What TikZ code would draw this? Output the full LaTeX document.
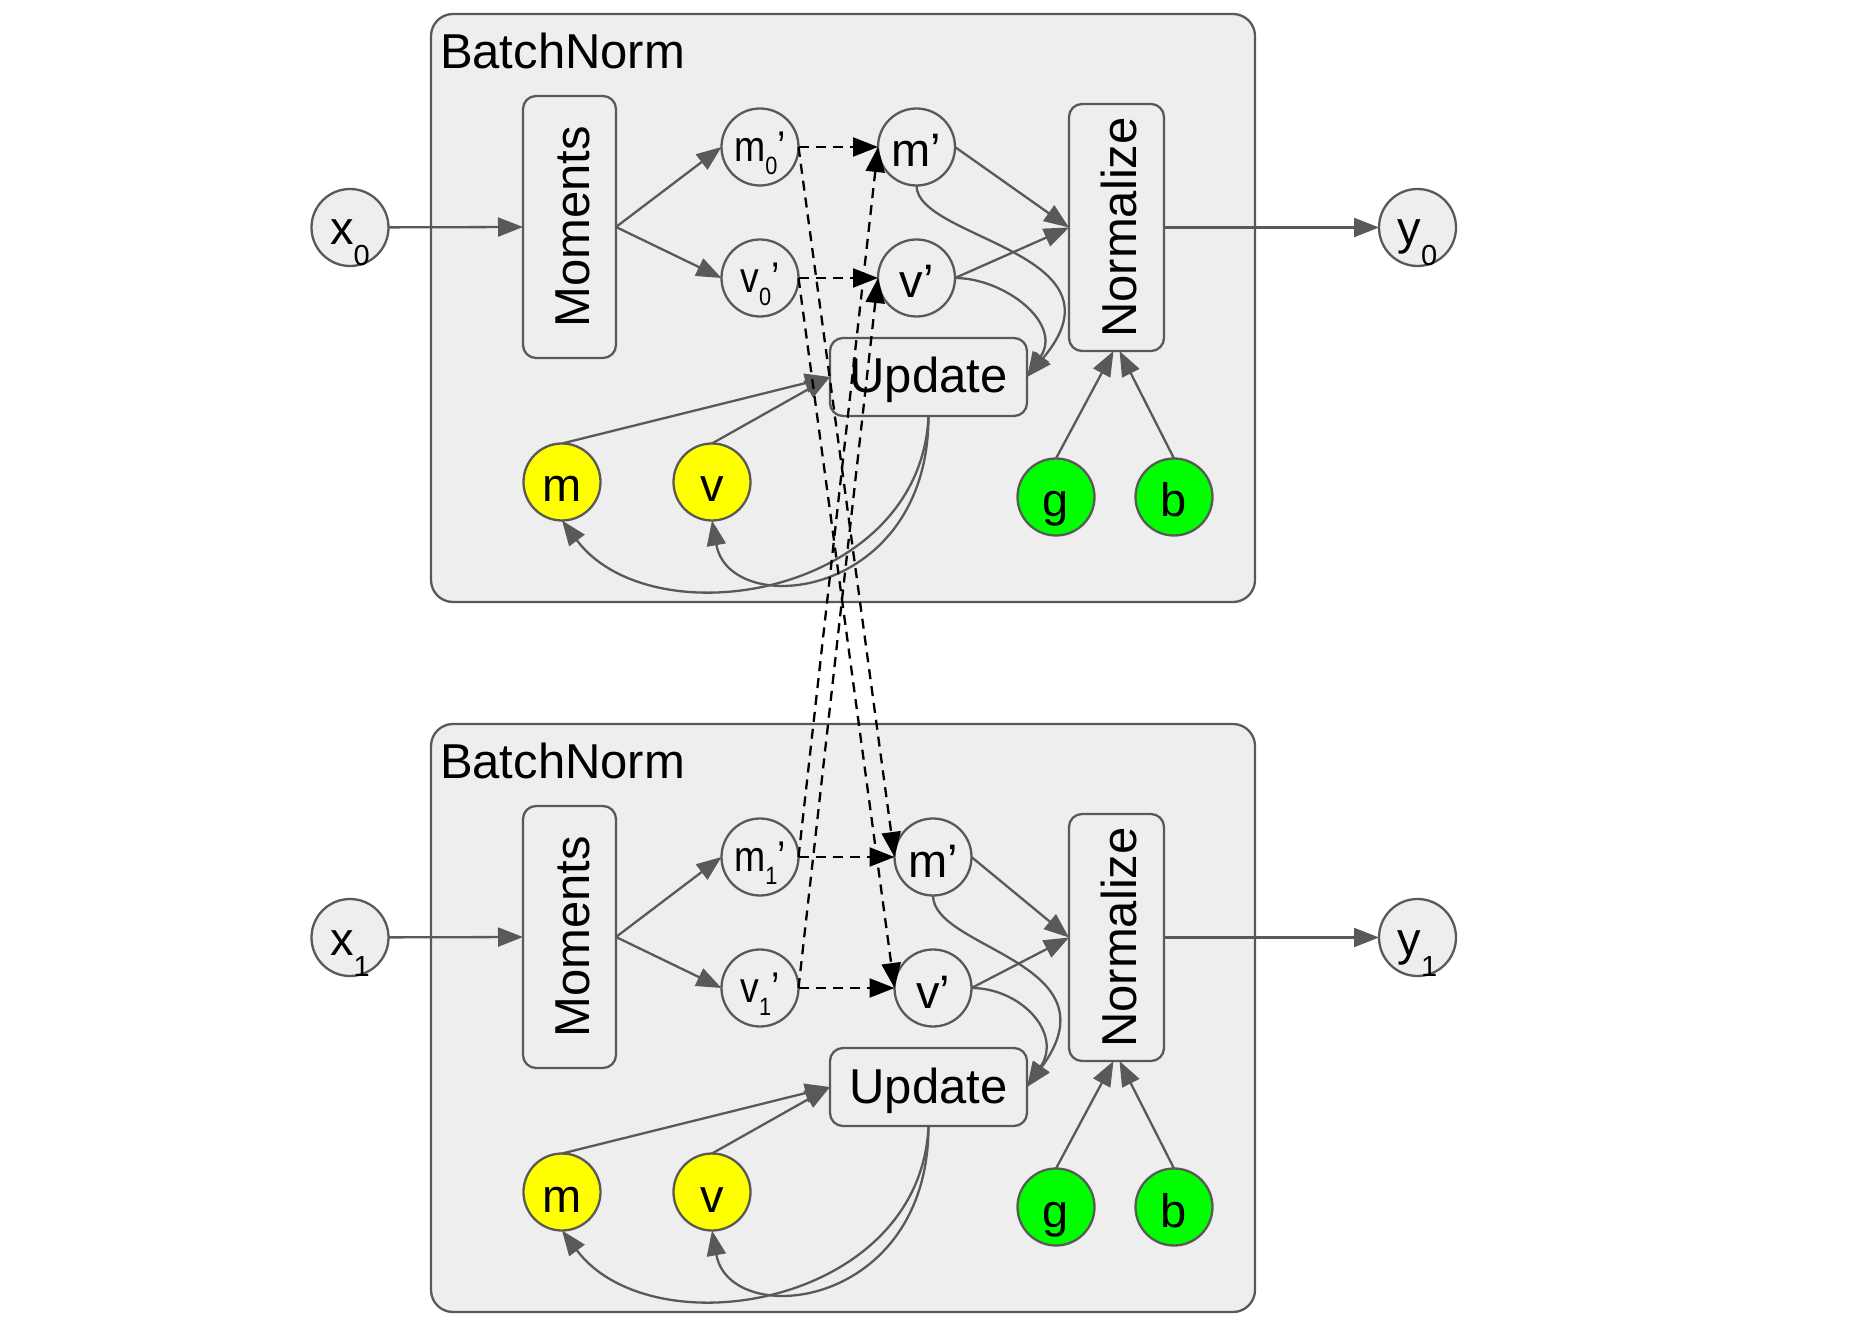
\documentclass[tikz,border=0pt]{standalone}
\usepackage{fontspec}
\setmainfont{Liberation Sans}
\usepackage{graphicx}
\usetikzlibrary{arrows.meta}
\definecolor{ln}{HTML}{595959}
\definecolor{bgc}{HTML}{EEEEEE}
\definecolor{ylw}{HTML}{FFFF00}
\definecolor{grn}{HTML}{00FF00}
\newcommand{\bigtxt}{\fontsize{24.5pt}{29pt}\selectfont}
\newcommand{\circtxt}{\fontsize{23.5pt}{28pt}\selectfont}
\newcommand{\subx}[1]{\raisebox{-10.5pt}{\fontsize{14.5pt}{17pt}\selectfont #1}}
\newcommand{\primed}[2]{\scalebox{0.87}[1]{\fontsize{21.5pt}{26pt}\selectfont #1\raisebox{-6.2pt}{\fontsize{12.5pt}{14pt}\selectfont #2}’}}
\tikzset{
  every node/.style={inner sep=0pt, outer sep=0pt},
  con/.style={draw=ln, line width=1.15pt, -{Triangle[length=12.5pt,width=9.5pt]}},
  dsh/.style={draw=black, line width=1.15pt, dash pattern=on 5pt off 3.5pt, -{Triangle[length=12.5pt,width=9.5pt]}},
  module/.style={draw=ln, fill=bgc, line width=1.15pt, rounded corners=11pt, minimum width=412pt, minimum height=294pt},
  modlabel/.style={anchor=base west, font=\bigtxt},
  rbox/.style={draw=ln, fill=bgc, line width=1.15pt, rounded corners=6.5pt, font=\bigtxt, text height=22pt, text depth=2pt},
  circ/.style={circle, draw=ln, fill=bgc, line width=1.15pt, minimum size=38.5pt, font=\circtxt, text height=22pt, text depth=2pt},
  iocirc/.style={circ, text height=19.5pt, text depth=2pt},
  pcirc/.style={circ, text height=16pt, text depth=1.3pt},
  ycirc/.style={circ, fill=ylw},
  gcirc/.style={circ, fill=grn},
}
\begin{document}
\begin{tikzpicture}[x=0.5pt, y=-0.5pt]
\useasboundingbox (0,0) rectangle (1862,1325);
\foreach \k in {0,1} {
  \pgfmathsetmacro{\yo}{710*\k}
  \pgfmathsetmacro{\mx}{916.5+16.5*\k}
  \node[module] (bn\k) at (843, 308+\yo) {};
  \node[modlabel] (lab\k) at (440, 68.3+\yo) {BatchNorm};
  \node[rbox, rotate=90, minimum width=131pt, minimum height=46.5pt] (mom\k) at (569.5, 227+\yo) {Moments};
  \node[rbox, rotate=90, minimum width=123.5pt, minimum height=47.5pt] (nrm\k) at (1116.5, 227.5+\yo) {Normalize};
  \node[rbox, text height=18pt, minimum width=98.5pt, minimum height=39pt] (upd\k) at (928.5, 377+\yo) {Update};
  \node[pcirc] (a\k) at (760, 147+\yo) {\primed{m}{\k}};
  \node[pcirc] (c\k) at (760, 278+\yo) {\primed{v}{\k}};
  \node[circ] (M\k) at (\mx, 147+\yo) {m’};
  \node[circ] (V\k) at (\mx, 278+\yo) {v’};
  \node[ycirc] (ym\k) at (562, 482+\yo) {m};
  \node[ycirc] (yv\k) at (712, 482+\yo) {v};
  \node[gcirc] (gg\k) at (1056, 497+\yo) {g};
  \node[gcirc] (gb\k) at (1174, 497+\yo) {b};
  \node[iocirc] (x\k) at (350, 227.5+\yo) {x\subx{\k}};
  \node[iocirc] (y\k) at (1417.5, 227.5+\yo) {y\subx{\k}};
}
\foreach \k in {0,1} {
  \pgfmathsetmacro{\cx}{106-14*\k}
  \draw[con] (x\k) -- (mom\k.north);
  \draw[con] (mom\k.south) -- (a\k.west);
  \draw[con] (mom\k.south) -- (c\k.west);
  \draw[dsh] (a\k.east) -- (M\k.west);
  \draw[dsh] (c\k.east) -- (V\k.west);
  \draw[con] (M\k.east) -- (nrm\k.north);
  \draw[con] (V\k.east) -- (nrm\k.north);
  \draw[con] (nrm\k.south) -- (y\k.west);
  \draw[con] (M\k.south) .. controls +(0,54) and +(\cx,-125) .. (upd\k.east);
  \draw[con] (V\k.east) .. controls +(49,0) and +(36,-54) .. (upd\k.east);
  \draw[con] (ym\k.north) -- (upd\k.west);
  \draw[con] (yv\k.north) -- (upd\k.west);
  \draw[con] (upd\k.south) .. controls +(-8,180) and +(90,120) .. (ym\k.south);
  \draw[con] (upd\k.south) .. controls +(0,184) and +(18,100) .. (yv\k.south);
  \draw[con] (gg\k.north) -- ([xshift=-1.5pt]nrm\k.west);
  \draw[con] (gb\k.north) -- ([xshift=1.5pt]nrm\k.west);
}
\draw[dsh] (a0.east) -- (M1.west);
\draw[dsh] (c0.east) -- (V1.west);
\draw[dsh] (a1.east) -- (M0.west);
\draw[dsh] (c1.east) -- (V0.west);
\end{tikzpicture}
\end{document}
